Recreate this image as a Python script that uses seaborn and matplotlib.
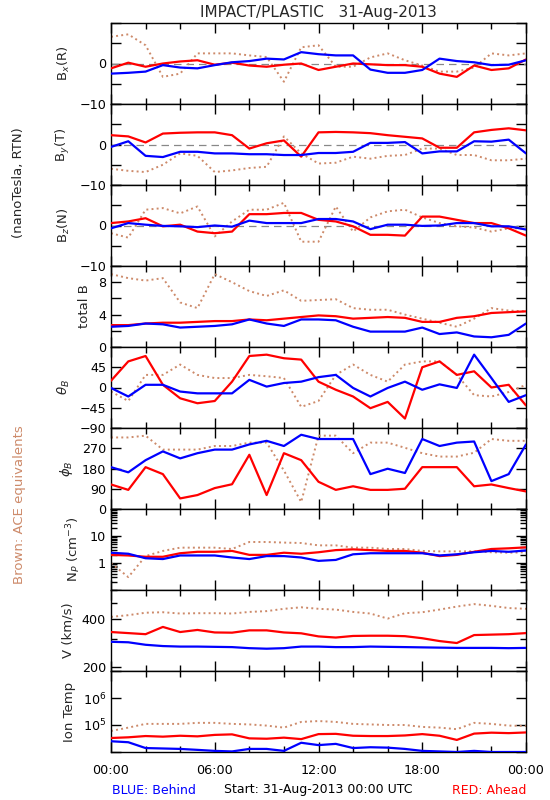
import numpy as np
import pandas as pd
import seaborn as sns
import matplotlib.pyplot as plt
from matplotlib.ticker import FixedLocator, FixedFormatter, MultipleLocator, NullLocator, NullFormatter

# hourly values, 00:00 .. 24:00
hours = list(range(25))

bx_blue = [-2.5, -2.3, -2.0, -0.4, -1.0, -1.2, -0.4, 0.3, 0.6, 1.2, 1.0, 2.8, 2.3,
           2.0, 2.0, -1.5, -2.3, -2.3, -1.6, 1.2, 0.6, 0.3, -0.4, -0.3, 0.8]
bx_red = [-1.2, 0.2, -0.8, 0.0, 0.5, 0.8, -0.3, 0.2, -0.5, -0.8, -0.3, 0.0, -1.6,
          -0.8, 0.0, -0.2, -0.4, -0.4, -0.8, -2.5, -3.3, -0.5, -1.6, -1.2, 1.0]
bx_brown = [6.6, 7.2, 4.5, -3.3, -2.5, 2.5, 2.5, 2.5, 2.0, 1.6, -4.5, 4.0, 4.5,
            -0.8, -0.8, 1.5, 2.5, 0.8, -0.5, -2.0, -2.0, -1.0, 2.5, 2.0, 2.5]

by_blue = [-0.6, 0.8, -2.8, -3.1, -1.8, -1.8, -2.2, -2.2, -2.4, -2.4, -2.6, -2.6, -2.1,
           -2.1, -1.8, 0.4, 0.4, 0.6, -2.2, -1.7, -1.7, 0.8, 0.7, 1.2, -2.2]
by_red = [2.3, 2.0, 0.5, 2.7, 2.9, 3.0, 3.0, 2.3, -1.0, 0.3, 1.0, -3.0, 3.0,
          3.1, 3.0, 2.8, 2.3, 1.9, 1.5, -0.8, -0.8, 3.0, 3.6, 4.0, 3.5]
by_brown = [-6.0, -6.5, -6.8, -5.0, -2.2, -2.8, -6.8, -6.4, -5.8, -5.5, 2.0, -2.2, -4.7,
            -4.5, -3.0, -3.5, -2.8, -2.6, -1.0, -1.0, -2.6, -2.6, -3.9, -3.9, -3.5]

bz_blue = [-0.7, 0.6, 0.2, -0.1, -0.2, -0.4, 0.0, -0.3, 1.2, 0.6, 0.6, 0.6, 1.6,
           1.6, 1.0, -0.9, 0.2, 0.2, -0.1, 0.0, 0.6, 0.6, -0.2, -0.2, -1.0]
bz_red = [0.6, 1.0, 1.8, -0.2, 0.2, -1.5, -1.9, -1.5, 2.8, 2.8, 3.1, 3.1, 1.4,
          1.0, -0.2, -2.3, -2.3, -2.5, 2.2, 2.2, 1.4, 0.6, 0.6, -0.7, -2.5]
bz_brown = [-1.9, -3.0, 3.9, 4.3, 3.0, 4.7, -2.7, 1.0, 3.9, 3.9, 5.6, -4.0, -4.0,
            4.7, -1.5, 2.0, 3.5, 3.9, 2.0, 0.6, -0.2, -0.5, -1.5, -0.7, -0.7]

bt_blue = [2.5, 2.6, 2.9, 2.8, 2.4, 2.5, 2.6, 2.8, 3.4, 2.9, 2.6, 3.4, 3.4,
           3.3, 2.5, 1.9, 1.9, 1.9, 2.4, 1.6, 1.8, 1.3, 1.2, 1.5, 2.9]
bt_red = [2.7, 2.7, 2.9, 3.0, 3.0, 3.1, 3.2, 3.2, 3.4, 3.3, 3.5, 3.7, 3.9,
          3.8, 3.5, 3.6, 3.7, 3.6, 3.1, 3.1, 3.6, 3.8, 4.2, 4.3, 4.4]
bt_brown = [9.0, 8.5, 8.2, 8.5, 5.5, 4.8, 9.0, 8.0, 6.9, 6.3, 7.0, 5.7, 5.8,
            5.9, 4.8, 4.6, 4.6, 4.0, 3.5, 3.0, 2.5, 3.5, 4.8, 4.5, 4.4]

theta_blue = [-1, -20, 6, 6, -9, -13, -13, -13, 17, 2, 10, 13, 23,
              28, -1, -20, -1, 13, -5, 7, -1, 73, 21, -32, -17]
theta_red = [15, 58, 70, 6, -24, -35, -30, 13, 70, 73, 65, 62, 13,
             -5, -20, -46, -32, -69, 45, 58, 28, 36, 0, 6, -40]
theta_brown = [-9, -30, 28, 28, 51, 28, 21, 21, 28, 25, 21, -43, -30,
               28, 51, 28, 13, 51, 58, 58, 28, -17, -20, -10, 6]

phi_blue = [186, 163, 217, 256, 225, 248, 264, 264, 287, 303, 280, 330, 311,
            311, 311, 155, 179, 160, 311, 280, 295, 300, 124, 155, 287]
phi_red = [109, 85, 186, 155, 47, 62, 93, 110, 241, 62, 248, 217, 121,
           85, 101, 85, 85, 90, 186, 186, 186, 101, 109, 93, 78]
phi_brown = [318, 318, 326, 264, 264, 264, 280, 280, 295, 295, 171, 31, 326,
             326, 248, 295, 295, 272, 248, 233, 233, 250, 311, 303, 303]

np_blue = [2.4, 2.2, 1.5, 1.4, 1.9, 1.9, 1.9, 1.6, 1.4, 1.8, 1.8, 1.6, 1.2,
           1.3, 2.1, 2.3, 2.3, 2.3, 2.3, 1.9, 2.1, 2.5, 2.8, 2.6, 2.9]
np_red = [2.0, 1.9, 1.7, 1.7, 2.3, 2.6, 2.6, 2.8, 2.0, 2.0, 2.4, 2.2, 2.5,
          3.0, 3.2, 3.0, 2.8, 2.8, 2.4, 1.8, 2.0, 2.6, 3.3, 3.5, 3.8]
np_brown = [1.0, 0.3, 1.8, 2.8, 3.7, 3.7, 3.7, 3.3, 6.0, 6.0, 5.7, 5.5, 4.5,
            4.5, 3.7, 3.7, 3.3, 3.3, 2.8, 2.7, 2.7, 2.7, 2.5, 2.4, 2.5]

v_blue = [287, 285, 275, 270, 268, 268, 267, 266, 262, 260, 262, 268, 268,
          266, 266, 268, 267, 266, 265, 264, 263, 263, 263, 262, 263]
v_red = [330, 325, 320, 355, 330, 340, 328, 327, 338, 338, 328, 324, 310,
         305, 312, 313, 313, 311, 302, 290, 282, 316, 318, 320, 325]
v_brown = [410, 420, 435, 438, 430, 432, 432, 430, 440, 445, 460, 470, 460,
           455, 440, 430, 400, 432, 438, 455, 475, 492, 480, 465, 460]

t_blue = [2.5e4, 2.3e4, 1.4e4, 1.35e4, 1.3e4, 1.2e4, 1.1e4, 1.05e4, 1.3e4, 1.3e4, 1.1e4, 2.2e4, 1.8e4,
          2.0e4, 1.4e4, 1.5e4, 1.45e4, 1.3e4, 1.1e4, 1.05e4, 1.0e4, 1.1e4, 1.0e4, 1.0e4, 1.0e4]
t_red = [3.3e4, 3.5e4, 3.9e4, 3.7e4, 4.0e4, 3.8e4, 4.3e4, 4.5e4, 3.2e4, 3.1e4, 3.4e4, 3.0e4, 4.6e4,
         4.7e4, 4.0e4, 3.9e4, 3.9e4, 4.1e4, 4.6e4, 4.0e4, 2.8e4, 4.8e4, 5.2e4, 5.0e4, 5.3e4]
t_brown = [6e4, 8e4, 1.1e5, 1.1e5, 1.1e5, 1.2e5, 1.2e5, 1.1e5, 1.05e5, 9.5e4, 8e4, 1.3e5, 1.4e5,
           1.3e5, 1.1e5, 1.05e5, 1.0e5, 1.0e5, 8.5e4, 8.0e4, 7e4, 1.2e5, 1.1e5, 9.5e4, 9.2e4]

xtick_labels = ['00:00', '06:00', '12:00', '18:00', '00:00']

BLUE = '#0000FF'
RED = '#FF0000'
BROWN = '#CD8A6A'

sns.set_theme(style='ticks')
plt.rcParams['font.family'] = ['DejaVu Sans']
plt.rcParams['axes.linewidth'] = 1.0

# label, brown, red, blue, scale, ylim, ticks, ticklabels
panels = [
    ('B$_x$(R)', bx_brown, bx_red, bx_blue, 'linear', (-10, 10),
     [-10, -5, 0, 5, 10], ['\u221210', '', '0', '', '']),
    ('B$_y$(T)', by_brown, by_red, by_blue, 'linear', (-10, 10),
     [-10, -5, 0, 5, 10], ['\u221210', '', '0', '', '']),
    ('B$_z$(N)', bz_brown, bz_red, bz_blue, 'linear', (-10, 10),
     [-10, -5, 0, 5, 10], ['\u221210', '', '0', '', '']),
    ('total B', bt_brown, bt_red, bt_blue, 'linear', (0, 10),
     [0, 2, 4, 6, 8, 10], ['0', '', '4', '', '8', '']),
    (r'$\theta_B$', theta_brown, theta_red, theta_blue, 'linear', (-90, 90),
     [-90, -45, 0, 45, 90], ['\u221290', '\u221245', '0', '45', '']),
    (r'$\phi_B$', phi_brown, phi_red, phi_blue, 'linear', (0, 360),
     [0, 90, 180, 270, 360], ['0', '90', '180', '270', '']),
    ('N$_P$ (cm$^{-3}$)', np_brown, np_red, np_blue, 'log', (0.1, 100),
     [0.1, 1, 10, 100], ['', '1', '10', '']),
    ('V (km/s)', v_brown, v_red, v_blue, 'log', (189, 602),
     [200, 400], ['200', '400']),
    ('Ion Temp', t_brown, t_red, t_blue, 'log', (1e4, 1e7),
     [1e4, 1e5, 1e6, 1e7], ['', '10$^5$', '10$^6$', '']),
]

fig, axes = plt.subplots(9, 1, figsize=(5.5, 8), dpi=100, sharex=True)
fig.subplots_adjust(left=111 / 550, right=526 / 550, top=1 - 23 / 800,
                    bottom=1 - 752 / 800, hspace=0)

for i, (ax, (label, brown, red, blue, scale, ylim, ticks, tlabels)) in enumerate(zip(axes, panels)):
    ax.set_yscale(scale)
    if i < 3:
        ax.axhline(0, color='#888888', lw=0.9, ls=(0, (6, 4)), zorder=1)
    sns.lineplot(x=hours, y=brown, ax=ax, color=BROWN, lw=1.4, linestyle=':',
                 estimator=None, zorder=2)
    sns.lineplot(x=hours, y=red, ax=ax, color=RED, lw=1.6, estimator=None, zorder=3)
    sns.lineplot(x=hours, y=blue, ax=ax, color=BLUE, lw=1.6, estimator=None, zorder=4)
    ax.set_xlim(0, 24)
    ax.set_ylim(*ylim)
    ax.yaxis.set_major_locator(FixedLocator(ticks))
    ax.yaxis.set_major_formatter(FixedFormatter(tlabels))
    if scale == 'log' and i != 8:
        ax.yaxis.set_minor_formatter(NullFormatter())
    else:
        ax.yaxis.set_minor_locator(NullLocator())
    ax.xaxis.set_major_locator(FixedLocator([0, 6, 12, 18, 24]))
    ax.xaxis.set_minor_locator(MultipleLocator(2))
    ax.tick_params(which='both', direction='in', top=True, right=True,
                   labelsize=9.2, colors='black')
    ax.tick_params(which='major', length=7, width=1)
    ax.tick_params(which='minor', length=4, width=1)
    ax.set_ylabel(label, fontsize=9.5, labelpad=5)
    ax.set_xlabel('')
    for sp in ax.spines.values():
        sp.set_color('black')

axes[-1].xaxis.set_major_formatter(FixedFormatter(xtick_labels))
axes[-1].tick_params(axis='x', labelsize=9.2, pad=9)

fig.text(318.5 / 550, 1 - 12 / 800, 'IMPACT/PLASTIC   31-Aug-2013',
         ha='center', va='center', fontsize=11)
fig.text(19 / 550, 1 - 183 / 800, '(nanoTesla, RTN)', rotation=90,
         ha='center', va='center', fontsize=9.5)
fig.text(20 / 550, 1 - 505 / 800, 'Brown: ACE equivalents', rotation=90,
         ha='center', va='center', fontsize=9.5, color=BROWN)
fig.text(112 / 550, 1 - 790 / 800, 'BLUE: Behind', ha='left', va='center',
         fontsize=9, color=BLUE)
fig.text(318.5 / 550, 1 - 790 / 800, 'Start: 31-Aug-2013 00:00 UTC',
         ha='center', va='center', fontsize=9, color='black')
fig.text(526 / 550, 1 - 790 / 800, 'RED: Ahead', ha='right', va='center',
         fontsize=9, color=RED)

fig.savefig('out.png', dpi=100, facecolor='white')
